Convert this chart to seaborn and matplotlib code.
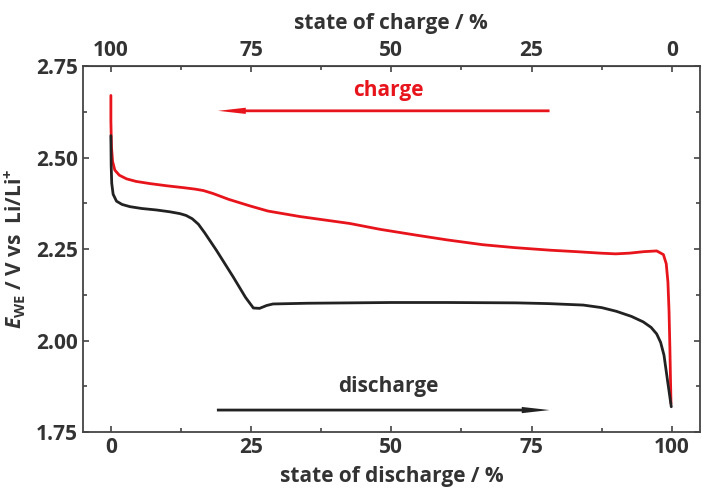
import matplotlib
matplotlib.use("Agg")
import matplotlib.pyplot as plt
import seaborn as sns
import pandas as pd

# discharge curve (black), x = state of discharge / %
discharge_x = [0, 0.05, 0.15, 0.4, 1.0, 2.0, 3.4, 5.5, 8.1, 10.5, 12.3, 13.4, 14.5, 15.6, 16.7,
               18.8, 21.8, 24.0, 25.4, 26.5, 27.8, 28.9, 35, 42.6, 50, 60, 72.3, 78, 84.2,
               87.5, 90.1, 92.8, 94.9, 96.3, 97.3, 98.0, 98.6, 99.3, 99.9]
discharge_v = [2.56, 2.48, 2.43, 2.40, 2.381, 2.372, 2.366, 2.361, 2.357, 2.352, 2.347, 2.342, 2.333, 2.318, 2.295,
               2.247, 2.174, 2.118, 2.089, 2.088, 2.096, 2.100, 2.102, 2.103, 2.104, 2.104, 2.103, 2.101, 2.097,
               2.090, 2.080, 2.066, 2.051, 2.036, 2.018, 1.995, 1.960, 1.883, 1.819]

# charge curve (red), plotted against state of discharge / %
charge_x = [99.85, 99.75, 99.65, 99.5, 99.3, 99.0, 98.5, 97.3, 95.0, 92.5, 90.0, 87.2, 83.0, 78.3,
            72.0, 66.3, 60.0, 54.5, 48.0, 42.6, 33.7, 28.0, 24.8, 21.0, 18.2, 16.5, 15.0,
            12.9, 10.0, 7.0, 4.5, 2.8, 1.5, 0.7, 0.3, 0.1, 0.0, 0.0]
charge_v = [1.828, 1.90, 1.98, 2.08, 2.16, 2.21, 2.235, 2.245, 2.243, 2.239, 2.237, 2.239, 2.243, 2.247,
            2.254, 2.262, 2.275, 2.288, 2.304, 2.320, 2.339, 2.354, 2.368, 2.386, 2.402, 2.410, 2.414,
            2.418, 2.423, 2.429, 2.435, 2.442, 2.452, 2.466, 2.49, 2.53, 2.60, 2.67]

x_ticks = [0, 25, 50, 75, 100]
y_ticks = [1.75, 2.00, 2.25, 2.50, 2.75]

sns.set_style("ticks")
plt.rcParams["font.family"] = ["Open Sans", "DejaVu Sans"]
plt.rcParams["mathtext.fontset"] = "custom"
plt.rcParams["mathtext.rm"] = "Open Sans:bold"
plt.rcParams["mathtext.it"] = "Open Sans:italic:bold"
plt.rcParams["mathtext.bf"] = "Open Sans:bold"

text_col = "#333333"
df_dis = pd.DataFrame({"x": discharge_x, "v": discharge_v})
df_chg = pd.DataFrame({"x": charge_x, "v": charge_v})

fig = plt.figure(figsize=(7.02, 4.94), dpi=100)
ax = fig.add_axes([0.118, 0.1255, 0.879, 0.7405])

sns.lineplot(data=df_chg, x="x", y="v", sort=False, color="#e8141c", lw=2.0, ax=ax, estimator=None)
sns.lineplot(data=df_dis, x="x", y="v", sort=False, color="#222222", lw=2.0, ax=ax, estimator=None)

ax.set_xlim(-5, 105)
ax.set_ylim(1.75, 2.75)
ax.set_xticks(x_ticks)
ax.set_xticks([12.5, 37.5, 62.5, 87.5], minor=True)
ax.set_yticks(y_ticks)
ax.set_yticks([1.875, 2.125, 2.375, 2.625], minor=True)
ax.set_yticklabels([f"{v:.2f}" for v in y_ticks])
for s in ax.spines.values():
    s.set_visible(True)
    s.set_linewidth(1.3)
    s.set_color("#444444")
ax.tick_params(which="both", direction="in", top=False, right=True, colors="#444444",
               labelcolor=text_col, labelsize=15, width=1.2)
ax.tick_params(which="major", length=4)
ax.tick_params(which="minor", length=3)
for lab in ax.get_xticklabels() + ax.get_yticklabels():
    lab.set_fontweight("bold")

ax.set_xlabel("state of discharge / %", fontsize=15, fontweight="bold", color=text_col, labelpad=6)
ax.set_ylabel(r"$\mathit{E}_{\mathrm{WE}}$ / V vs  Li/Li$^{+}$", fontsize=15, fontweight="bold",
              color=text_col, labelpad=6)

top = ax.secondary_xaxis("top", functions=(lambda x: 100 - x, lambda x: 100 - x))
top.set_xticks(x_ticks)
top.set_xticks([12.5, 37.5, 62.5, 87.5], minor=True)
top.tick_params(which="both", direction="in", colors="#444444", labelcolor=text_col,
                labelsize=15, width=1.2)
top.tick_params(which="major", length=4)
top.tick_params(which="minor", length=3)
for lab in top.get_xticklabels():
    lab.set_fontweight("bold")
top.set_xlabel("state of charge / %", fontsize=15, fontweight="bold", color=text_col, labelpad=8)

# direction arrows
arrow_style = "simple,head_length=2.0,head_width=0.45,tail_width=0.2"
ax.annotate("", xy=(19.1, 2.628), xytext=(78.2, 2.628),
            arrowprops=dict(arrowstyle=arrow_style, color="#e8141c", lw=0, shrinkA=0, shrinkB=0))
ax.text(49.5, 2.655, "charge", color="#e8141c", fontsize=15, fontweight="bold", ha="center", va="bottom")
ax.annotate("", xy=(78.2, 1.81), xytext=(18.9, 1.81),
            arrowprops=dict(arrowstyle=arrow_style, color="#222222", lw=0, shrinkA=0, shrinkB=0))
ax.text(49.5, 1.845, "discharge", color=text_col, fontsize=15, fontweight="bold", ha="center", va="bottom")

fig.savefig("out.png", dpi=100)
